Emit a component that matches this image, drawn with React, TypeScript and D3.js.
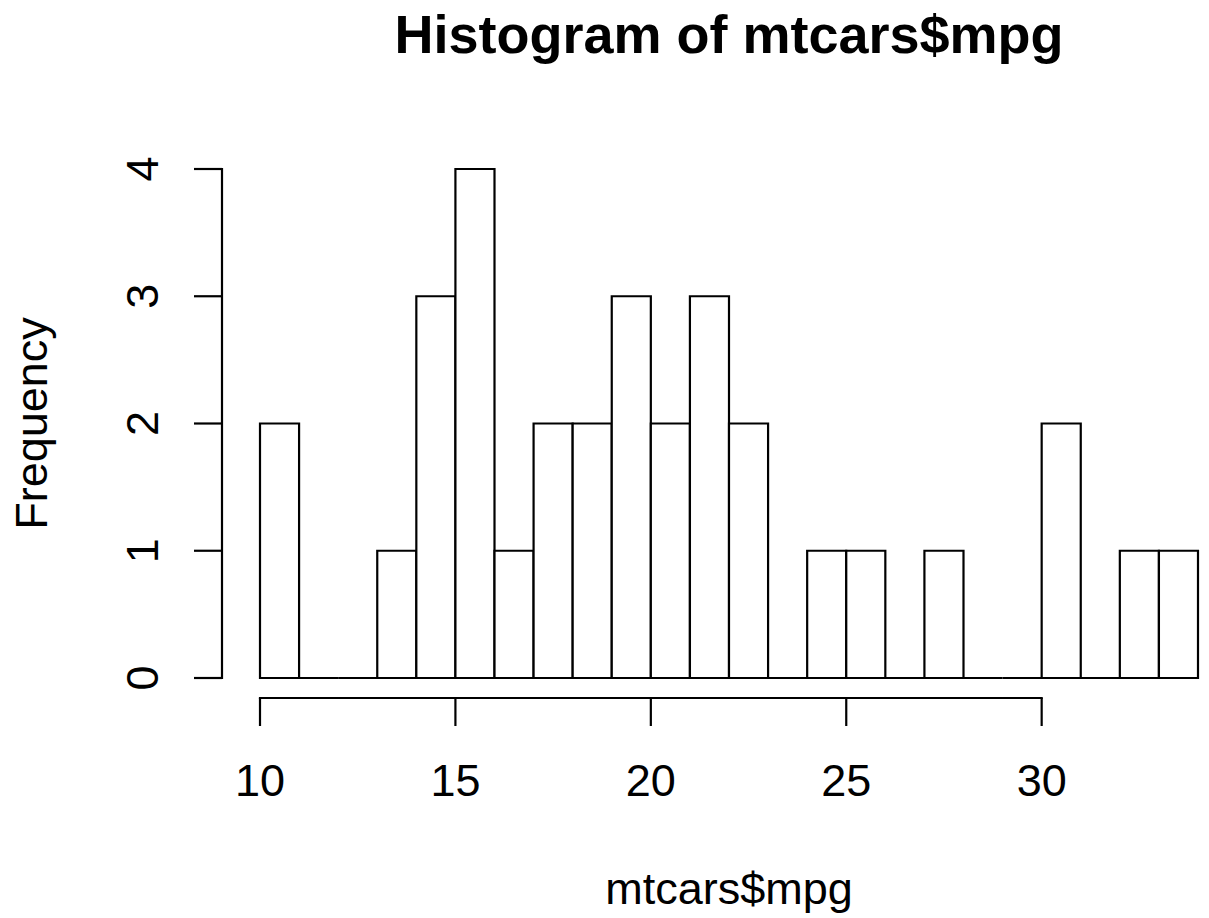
import React from "react";
import * as d3 from "d3";

const breaks = [10, 11, 12, 13, 14, 15, 16, 17, 18, 19, 20, 21, 22, 23, 24, 25, 26, 27, 28, 29, 30, 31, 32, 33, 34];
const counts = [2, 0, 0, 1, 3, 4, 1, 2, 2, 3, 2, 3, 2, 0, 1, 1, 0, 1, 0, 0, 2, 0, 1, 1];
const xTicks = [10, 15, 20, 25, 30];
const yTicks = [0, 1, 2, 3, 4];
const title = "Histogram of mtcars$mpg";
const xLabel = "mtcars$mpg";
const yLabel = "Frequency";

export default function App() {
  const W = 1209, H = 918;
  const x = d3.scaleLinear().domain([10, 34]).range([260, 1198]);
  const y = d3.scaleLinear().domain([0, 4]).range([678, 169]);
  const font = "'Liberation Sans', Arial, Helvetica, sans-serif";
  const sw = 2.2;
  const axisX = 222;
  const axisY = 698;
  const tick = 28;
  return (
    <div style={{ position: "absolute", left: 0, top: 0 }}>
      <svg width={W} height={H} viewBox={`0 0 ${W} ${H}`} style={{ display: "block", background: "#fff" }}>
        <text x={729} y={53} textAnchor="middle" fontFamily={font} fontWeight="bold" fontSize={54} fill="#000">{title}</text>
        {counts.map((c, i) => {
          const x0 = x(breaks[i]), x1 = x(breaks[i + 1]), y0 = y(0), y1 = y(c);
          return (
            <path key={i} d={`M${x0},${y0}L${x0},${y1}L${x1},${y1}L${x1},${y0}Z`}
              fill="#fff" stroke="#000" strokeWidth={sw} strokeLinejoin="miter" />
          );
        })}
        {/* y axis */}
        <line x1={axisX} x2={axisX} y1={y(0)} y2={y(4)} stroke="#000" strokeWidth={sw} strokeLinecap="square" />
        {yTicks.map(t => (
          <g key={t}>
            <line x1={axisX} x2={axisX - tick} y1={y(t)} y2={y(t)} stroke="#000" strokeWidth={sw} />
            <text transform={`translate(158,${y(t)}) rotate(-90)`} textAnchor="middle" fontFamily={font} fontSize={45} fill="#000">{t}</text>
          </g>
        ))}
        {/* x axis */}
        <line x1={x(10)} x2={x(30)} y1={axisY} y2={axisY} stroke="#000" strokeWidth={sw} strokeLinecap="square" />
        {xTicks.map(t => (
          <g key={t}>
            <line x1={x(t)} x2={x(t)} y1={axisY} y2={axisY + tick} stroke="#000" strokeWidth={sw} />
            <text x={x(t)} y={796} textAnchor="middle" fontFamily={font} fontSize={45} fill="#000">{t}</text>
          </g>
        ))}
        <text x={729} y={904} textAnchor="middle" fontFamily={font} fontSize={45} fill="#000">{xLabel}</text>
        <text transform={`translate(47,${y(2)}) rotate(-90)`} textAnchor="middle" fontFamily={font} fontSize={45} fill="#000">{yLabel}</text>
      </svg>
    </div>
  );
}
